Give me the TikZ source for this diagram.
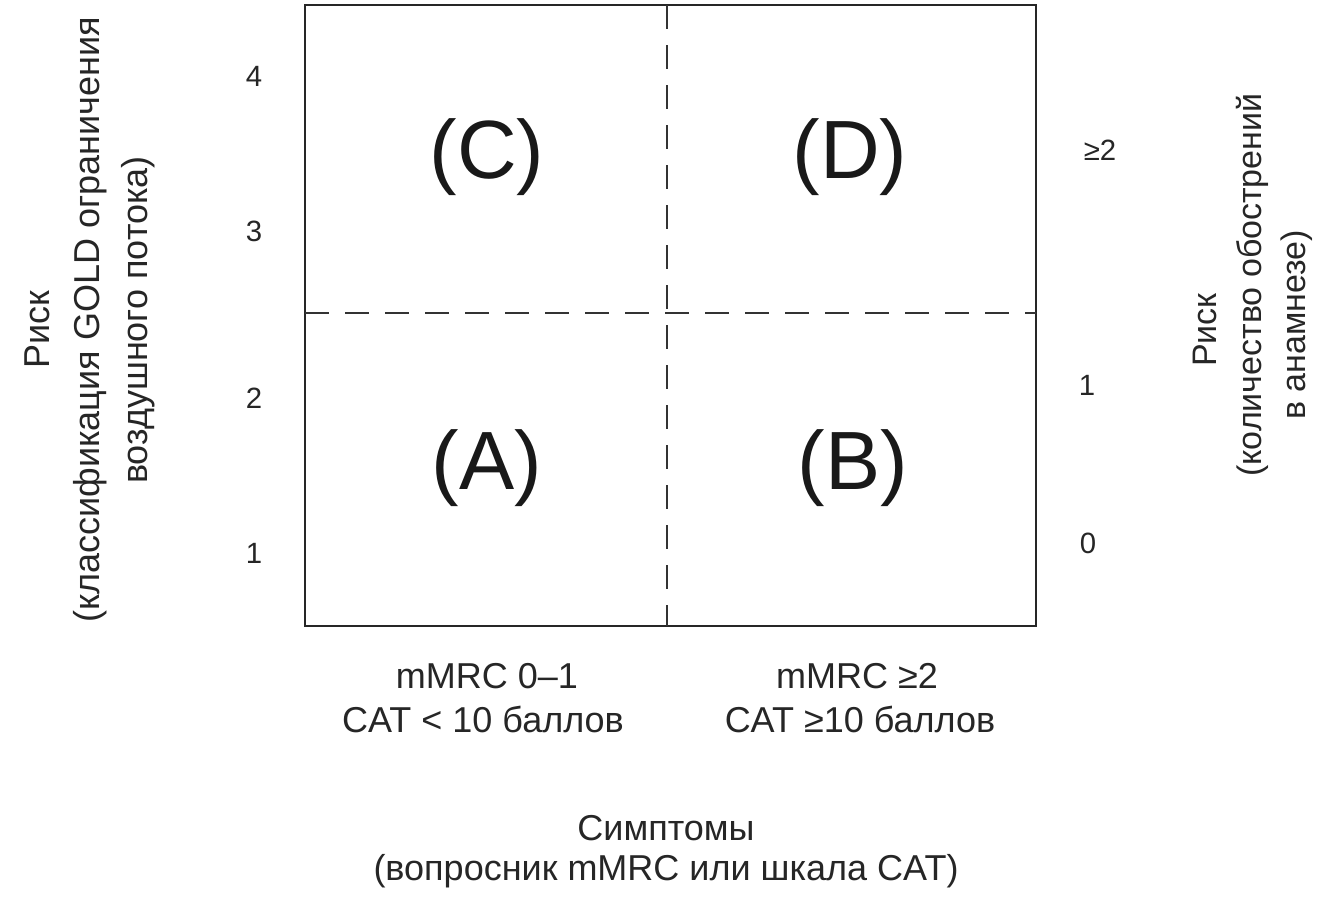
\documentclass[tikz,border=0pt]{standalone}
\usepackage{fontspec}
\setmainfont{Liberation Sans}
\begin{document}
\begin{tikzpicture}[x=0.75pt,y=-0.75pt,
  boxline/.style={line width=1.6pt,black!85},
  dashline/.style={line width=1.3pt,black!80,dash pattern=on 18pt off 12pt},
  lbl/.style={inner sep=0pt,font=\fontsize{27}{32}\selectfont,text=black!85},
  rlbl/.style={inner sep=0pt,font=\fontsize{25.5}{30}\selectfont,text=black!85},
  num/.style={inner sep=0pt,font=\fontsize{22}{26}\selectfont,text=black!85},
  big/.style={inner sep=0pt,font=\fontsize{62}{70}\selectfont,text=black!90}]
\fill[white] (0,0) rectangle (1320,904);
\useasboundingbox (0,0) rectangle (1320,904);
% frame
\coordinate (tl) at (305,5);
\coordinate (br) at (1036,626);
\coordinate (vt) at (667,5);
\coordinate (vb) at (667,626);
\coordinate (hl) at (305,313);
\coordinate (hr) at (1036,313);
\draw[boxline] (tl) rectangle (br);
\draw[dashline] (vt) -- (vb);
\draw[dashline] (hl) -- (hr);
% quadrant letters
\node[big] (C) at (487,157) {(C)};
\node[big] (D) at (850,157) {(D)};
\node[big] (A) at (487,468) {(A)};
\node[big] (B) at (853,468) {(B)};
% left numbers
\node[num] (n4) at (254,76) {4};
\node[num] (n3) at (254,231) {3};
\node[num] (n2) at (254,398) {2};
\node[num] (n1) at (254,553) {1};
% right numbers
\node[num] (r2) at (1100,150) {≥2};
\node[num] (r1) at (1087,385) {1};
\node[num] (r0) at (1088,543) {0};
% bottom labels
\node[lbl] (b1a) at (487,676) {mMRC 0–1};
\node[lbl] (b1b) at (483,719) {CAT < 10 баллов};
\node[lbl] (b2a) at (857,676) {mMRC ≥2};
\node[lbl] (b2b) at (860,719) {CAT ≥10 баллов};
\node[lbl] (s1) at (666,828) {Симптомы};
\node[lbl] (s2) at (666,871) {(вопросник mMRC или шкала CAT)};
% left rotated axis title
\node[lbl,rotate=90] (l1) at (37,330) {Риск};
\node[lbl,rotate=90] (l2) at (90,320) {(классификация GOLD ограничения};
\node[lbl,rotate=90] (l3) at (138,320) {воздушного потока)};
% right rotated axis title
\node[rlbl,rotate=90] (q1) at (1205,330) {Риск};
\node[rlbl,rotate=90] (q2) at (1252,285) {(количество обострений};
\node[rlbl,rotate=90] (q3) at (1297,325) {в анамнезе)};
\end{tikzpicture}
\end{document}
